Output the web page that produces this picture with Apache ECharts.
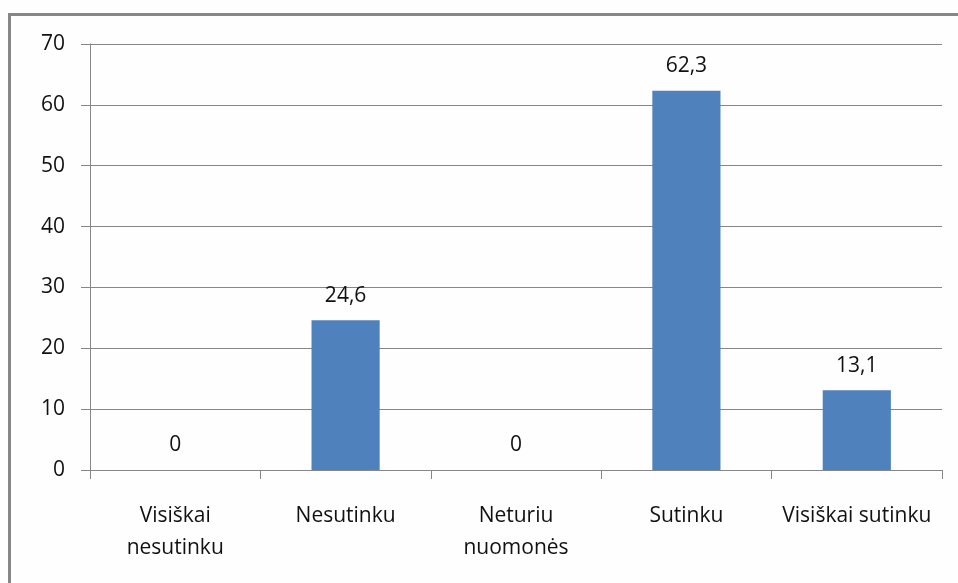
<!DOCTYPE html>
<html>
<head>
<meta charset="utf-8">
<script src="https://cdn.jsdelivr.net/npm/echarts@6/dist/echarts.min.js"></script>
<style>
html,body{margin:0;padding:0;background:#fefefe;}
#chart{width:958px;height:583px;}
</style>
</head>
<body>
<div id="chart"></div>
<script>
// Survey answers and the share (%) of respondents for each
const categories = ['Visiškai\nnesutinku', 'Nesutinku', 'Neturiu\nnuomonės', 'Sutinku', 'Visiškai sutinku'];
const shares = [0, 24.6, 0, 62.3, 13.1];
const yTicks = { min: 0, max: 70, interval: 10 };

const FONT = '"Open Sans", sans-serif';
const FONT_SIZE = 21;
const GRID_COLOR = '#868686';

const chart = echarts.init(document.getElementById('chart'), null, { renderer: 'canvas' });
chart.setOption({
  backgroundColor: '#fefefe',
  animation: false,
  graphic: [{
    type: 'rect',
    shape: { x: 9.5, y: 14.5, width: 1000, height: 1000 },
    style: { fill: 'none', stroke: '#878787', lineWidth: 3 },
    silent: true
  }],
  grid: { left: 90, right: 16, top: 44, bottom: 113, containLabel: false },
  xAxis: {
    type: 'category',
    data: categories,
    axisLine: { lineStyle: { color: GRID_COLOR, width: 1 } },
    axisTick: { show: true, length: 9, alignWithLabel: false, lineStyle: { color: GRID_COLOR } },
    axisLabel: {
      interval: 0, margin: 30, color: '#111', fontFamily: FONT, fontSize: FONT_SIZE,
      lineHeight: 32
    }
  },
  yAxis: {
    type: 'value',
    min: yTicks.min, max: yTicks.max, interval: yTicks.interval,
    axisLine: { show: true, lineStyle: { color: GRID_COLOR, width: 1 } },
    axisTick: { show: true, length: 9, lineStyle: { color: GRID_COLOR } },
    axisLabel: { margin: 25, color: '#111', fontFamily: FONT, fontSize: FONT_SIZE },
    splitLine: { show: true, lineStyle: { color: GRID_COLOR, width: 1 } }
  },
  series: [{
    type: 'bar',
    data: shares,
    barCategoryGap: '60%',
    itemStyle: { color: '#4f81bd' },
    label: {
      show: true, position: 'top', distance: 14,
      color: '#111', fontFamily: FONT, fontSize: FONT_SIZE,
      formatter: p => String(p.value).replace('.', ',')
    }
  }]
});
</script>
</body>
</html>
